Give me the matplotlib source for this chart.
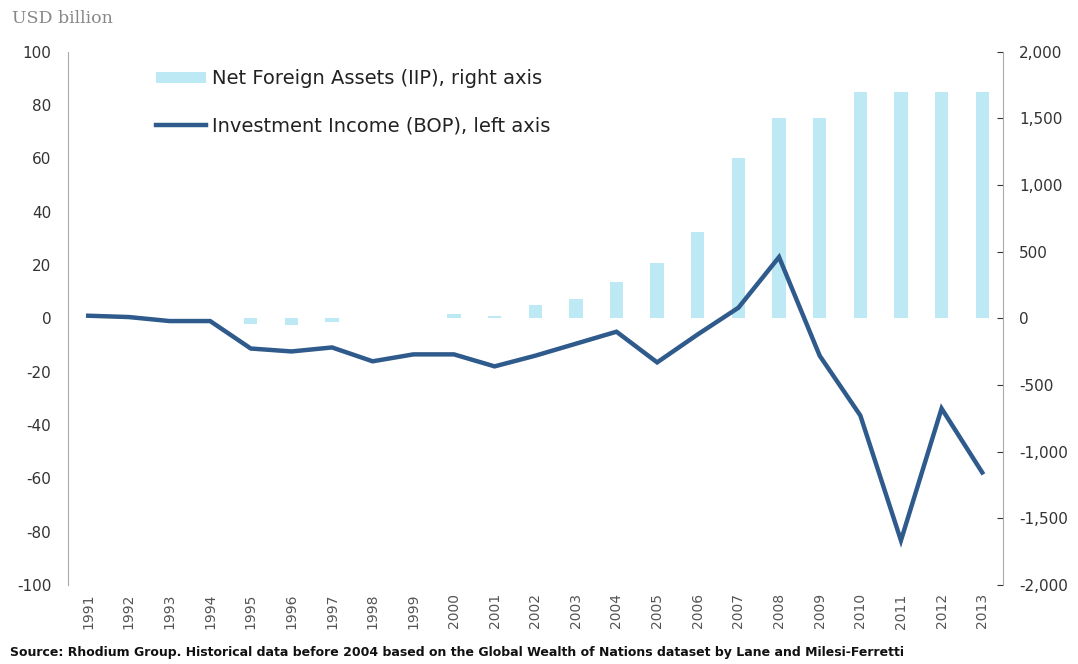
import numpy as np
import matplotlib
matplotlib.use('Agg')
import matplotlib.pyplot as plt

plt.rcParams['axes.unicode_minus'] = False

years = [str(y) for y in range(1991, 2014)]

# net foreign assets, right axis (USD billion)
nfa = [0, 0, 0, 0, -45, -50, -25, 0, 0, 30, 15, 100, 145, 275, 415, 650,
       1200, 1500, 1500, 1700, 1700, 1700, 1700]

# investment income, left axis (USD billion)
income = [1, 0.5, -1, -1, -11.3, -12.4, -10.9, -16.1, -13.5, -13.5, -18,
          -14, -9.5, -5, -16.5, -6, 4, 23, -14, -36.4, -83.3, -33.8, -57.8]

bar_color = '#bde9f5'
line_color = '#2f5a8c'
tick_color = '#333333'

fig = plt.figure(figsize=(10.78, 6.64), dpi=100)
ax = fig.add_axes([0.063, 0.119, 0.867, 0.803])
ax2 = ax.twinx()

x = np.arange(len(years))
ax2.bar(x, nfa, width=0.33, color=bar_color, zorder=1,
        label='Net Foreign Assets (IIP), right axis')
ax.plot(x, income, color=line_color, lw=3.2, solid_joinstyle='miter',
        label='Investment Income (BOP), left axis')

# line on top of the bars
ax.set_zorder(ax2.get_zorder() + 1)
ax.patch.set_visible(False)

ax.set_xlim(-0.5, len(years) - 0.5)
ax.set_ylim(-100, 100)
ax2.set_ylim(-2000, 2000)
ax.set_yticks(np.arange(-100, 101, 20))
ax2.set_yticks(np.arange(-2000, 2001, 500))
ax2.set_yticklabels(['{:,}'.format(v) for v in range(-2000, 2001, 500)])

ax.set_xticks(x)
ax.set_xticklabels(years, rotation=90, fontsize=10, color='#555555')
ax.tick_params(axis='x', length=0, pad=6)
ax.tick_params(axis='y', length=0, labelsize=11, colors=tick_color, pad=12)
ax2.tick_params(axis='y', length=4, direction='in', labelsize=11,
                colors=tick_color, pad=12)

for a in (ax, ax2):
    a.spines['top'].set_visible(False)
    a.spines['bottom'].set_visible(False)
    a.spines['left'].set_color('#aaaaaa')
    a.spines['right'].set_color('#aaaaaa')
    a.spines['left'].set_linewidth(0.8)
    a.spines['right'].set_linewidth(0.8)
ax.spines['right'].set_visible(False)
ax2.spines['left'].set_visible(False)

h2, l2 = ax2.get_legend_handles_labels()
h1, l1 = ax.get_legend_handles_labels()
leg = ax.legend(h2 + h1, l2 + l1, loc='upper left', bbox_to_anchor=(0.075, 1.0),
                frameon=False, fontsize=14, handlelength=2.6, handleheight=0.5,
                labelspacing=1.45, handletextpad=0.3)
for t in leg.get_texts():
    t.set_color('#222222')

fig.text(0.011, 0.972, 'USD billion', fontsize=12.5, color='#888888',
         family='DejaVu Serif', va='center')
fig.text(0.009, 0.018,
         'Source: Rhodium Group. Historical data before 2004 based on the Global '
         'Wealth of Nations dataset by Lane and Milesi-Ferretti',
         fontsize=9, fontweight='bold', color='#111111', va='center')

fig.savefig('out.png', dpi=100)
